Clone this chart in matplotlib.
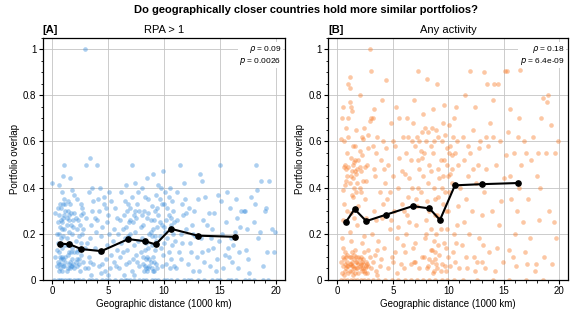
import matplotlib
matplotlib.use("Agg")
import matplotlib.pyplot as plt
from matplotlib.ticker import MultipleLocator

plt.rcParams["font.family"] = ["Liberation Sans", "DejaVu Sans"]
plt.rcParams["mathtext.fontset"] = "dejavusans"

# binned means (black line), same bins for both panels
bin_x = [0.75, 1.55, 2.6, 4.4, 6.8, 8.3, 9.25, 10.6, 13.0, 16.3]
bin_y_a = [0.157, 0.155, 0.134, 0.125, 0.177, 0.168, 0.154, 0.222, 0.192, 0.187]
bin_y_b = [0.25, 0.307, 0.255, 0.283, 0.32, 0.31, 0.26, 0.41, 0.415, 0.42]

# country pairs, panel A (RPA > 1): (distance, overlap)
zero_x_a = [0.2, 0.5, 0.9, 1.2, 1.6, 2.0, 2.4, 2.8, 3.3, 3.9, 4.5, 5.1, 5.6, 6.2, 6.7, 7.3, 7.8, 8.4,
            8.9, 9.5, 10.0, 10.6, 11.2, 11.8, 12.4, 13.0, 13.6, 14.3, 15.0, 15.7, 16.4, 17.2, 18.0, 18.8, 19.3,
            0.7, 1.4, 2.2, 3.6, 4.8, 6.5, 7.0, 8.1, 9.2, 10.3, 12.1, 14.7, 16.0, 17.6]
pts_a = [
    (0.4,0.06),(0.5,0.08),(0.6,0.12),(0.7,0.05),(0.8,0.18),(0.9,0.22),(0.5,0.25),(0.6,0.28),(0.7,0.33),(0.8,0.07),
    (1.0,0.09),(1.1,0.06),(1.2,0.15),(1.3,0.27),(1.4,0.30),(1.0,0.33),(0.9,0.38),(1.2,0.10),(1.5,0.07),(1.6,0.05),
    (1.7,0.12),(1.8,0.20),(1.9,0.26),(2.0,0.29),(1.6,0.33),(1.7,0.24),(1.5,0.21),(1.3,0.18),(1.1,0.22),(0.9,0.14),
    (0.7,0.10),(0.5,0.16),(0.4,0.20),(0.3,0.29),(0.6,0.04),(2.1,0.08),(2.2,0.06),(2.3,0.13),(2.4,0.19),(2.5,0.24),
    (2.6,0.28),(2.7,0.31),(2.8,0.08),(2.9,0.05),(2.2,0.35),(2.0,0.37),(1.8,0.39),(2.4,0.09),(2.6,0.16),(2.8,0.22),
    (3.0,0.27),(1.3,0.04),(1.4,0.11),(1.9,0.07),(2.1,0.17),(0.8,0.26),(1.0,0.27),(1.2,0.30),(1.5,0.28),(1.6,0.16),
    (1.8,0.09),(2.0,0.12),(2.3,0.26),(2.7,0.20),(2.9,0.14),(0.5,0.31),(0.3,0.10),(1.1,0.35),(1.4,0.34),(0.9,0.04),
    (2.5,0.04),(1.7,0.06),(2.2,0.22),(2.6,0.33),(1.0,0.45),(1.6,0.44),(1.1,0.50),(0.0,0.42),(0.6,0.41),
    (0.6,0.07),(0.8,0.09),(1.0,0.06),(1.2,0.08),(1.4,0.05),(1.6,0.08),(1.8,0.06),(2.0,0.05),(2.2,0.09),(2.4,0.07),
    (0.7,0.23),(0.9,0.25),(1.1,0.28),(1.3,0.24),(1.5,0.26),(1.7,0.29),(1.9,0.23),(2.1,0.27),(0.8,0.31),(1.2,0.33),
    (0.6,0.20),(1.0,0.19),(1.4,0.15),(1.8,0.14),(2.2,0.12),(0.4,0.13),(2.6,0.11),(2.8,0.29),(0.9,0.10),(1.5,0.12),
    (3.2,0.05),(3.3,0.10),(3.4,0.18),(3.5,0.24),(3.6,0.30),(3.7,0.07),(3.8,0.14),(3.9,0.21),(4.0,0.26),(4.1,0.35),
    (4.2,0.06),(4.3,0.12),(4.4,0.19),(4.5,0.23),(4.6,0.33),(4.7,0.04),(4.8,0.09),(4.9,0.15),(5.0,0.28),(5.1,0.38),
    (5.2,0.05),(5.3,0.11),(5.4,0.17),(5.5,0.22),(5.6,0.31),(5.7,0.06),(5.8,0.13),(5.9,0.20),(3.3,0.38),(3.0,0.50),
    (3.4,0.53),(4.0,0.50),(3.6,0.40),(4.3,0.40),(4.6,0.36),(5.3,0.34),(3.5,0.02),(4.4,0.03),(5.5,0.08),(3.1,0.16),
    (4.9,0.25),(5.8,0.27),(3.8,0.27),(4.2,0.30),(5.0,0.02),(3.4,0.08),(4.5,0.07),(5.1,0.20),(3.7,0.34),(4.8,0.31),
    (6.0,0.05),(6.1,0.10),(6.2,0.16),(6.3,0.22),(6.4,0.28),(6.5,0.34),(6.6,0.07),(6.7,0.13),(6.8,0.19),(6.9,0.25),
    (7.0,0.31),(7.1,0.04),(7.2,0.09),(7.3,0.15),(7.4,0.21),(7.5,0.27),(7.6,0.33),(7.7,0.38),(7.8,0.06),(7.9,0.12),
    (8.0,0.18),(8.1,0.24),(8.2,0.30),(8.3,0.36),(8.4,0.05),(8.5,0.10),(8.6,0.14),(8.7,0.20),(8.8,0.26),(8.9,0.32),
    (9.0,0.04),(9.1,0.08),(9.2,0.13),(9.3,0.17),(9.4,0.23),(9.5,0.28),(9.6,0.35),(9.7,0.40),(9.8,0.06),(9.9,0.11),
    (10.0,0.16),(10.1,0.21),(10.2,0.26),(10.3,0.31),(10.4,0.36),(10.5,0.05),(10.6,0.09),(10.7,0.15),(10.8,0.20),(10.9,0.25),
    (6.2,0.38),(6.4,0.02),(6.7,0.30),(6.9,0.08),(7.1,0.36),(7.3,0.28),(7.5,0.11),(7.7,0.17),(7.9,0.23),(8.1,0.07),
    (8.3,0.13),(8.5,0.27),(8.7,0.06),(8.9,0.15),(9.0,0.22),(9.2,0.30),(9.4,0.05),(9.6,0.19),(9.8,0.24),(10.0,0.33),
    (10.2,0.07),(10.4,0.12),(10.6,0.24),(10.8,0.30),(8.2,0.04),(8.4,0.09),(8.6,0.05),(8.8,0.08),(9.0,0.10),(7.0,0.20),
    (7.2,0.25),(6.8,0.33),(6.6,0.41),(7.1,0.50),(7.4,0.42),(8.0,0.40),(8.5,0.44),(9.0,0.46),(9.9,0.47),(9.5,0.41),
    (10.1,0.38),(10.5,0.40),(6.3,0.12),(6.5,0.18),(7.8,0.30),(8.6,0.35),(9.3,0.37),(10.7,0.34),(10.9,0.06),(6.1,0.26),
    (9.7,0.14),(10.3,0.18),(8.0,0.28),(7.6,0.08),(9.1,0.26),(10.5,0.22),(8.9,0.19),(7.3,0.02),
    (8.3,0.06),(8.5,0.04),(8.7,0.09),(8.9,0.05),(9.1,0.04),(9.3,0.07),(8.1,0.10),(8.4,0.16),(8.8,0.21),(9.2,0.19),
    (9.6,0.25),(10.0,0.23),(10.4,0.28),(9.4,0.31),(9.8,0.33),(8.6,0.29),(7.4,0.30),(7.0,0.26),(6.6,0.23),(10.6,0.27),
    (11.1,0.05),(11.3,0.12),(11.5,0.20),(11.7,0.28),(11.9,0.35),(12.1,0.07),(12.3,0.16),(12.5,0.24),(12.7,0.30),(12.9,0.10),
    (13.1,0.04),(13.3,0.18),(13.5,0.26),(13.7,0.36),(13.9,0.13),(14.1,0.06),(14.3,0.22),(14.5,0.29),(14.7,0.09),(14.9,0.17),
    (15.1,0.34),(15.3,0.05),(15.5,0.25),(15.7,0.14),(15.9,0.31),(16.1,0.08),(16.3,0.21),(16.5,0.27),(16.7,0.12),(16.9,0.30),
    (11.2,0.38),(11.4,0.50),(11.6,0.33),(11.8,0.42),(12.2,0.31),(12.6,0.04),(13.0,0.35),(13.2,0.46),(13.4,0.43),(13.8,0.24),
    (14.0,0.29),(14.4,0.14),(14.8,0.37),(15.0,0.50),(15.2,0.20),(15.6,0.38),(16.0,0.18),(16.4,0.35),(16.8,0.23),(11.0,0.17),
    (12.0,0.22),(12.8,0.19),(13.6,0.08),(14.6,0.04),(15.8,0.10),(16.6,0.05),(11.5,0.09),(12.4,0.12),
    (11.2,0.26),(11.6,0.16),(12.0,0.29),(12.6,0.20),(13.4,0.12),(14.2,0.18),(15.4,0.11),(16.2,0.15),
    (17.1,0.30),(17.3,0.13),(17.4,0.22),(17.6,0.03),(17.8,0.36),(18.0,0.25),(18.2,0.50),(18.3,0.39),(18.4,0.18),(18.6,0.21),
    (18.7,0.43),(18.8,0.06),(19.0,0.30),(19.2,0.12),(19.4,0.43),(19.6,0.22),(19.8,0.12),(19.9,0.21),(17.2,0.30),(18.1,0.33),
    (19.1,0.31),(17.5,0.09),(2.9,1.0),
]

# panel B (any activity)
zero_x_b = [0.3, 0.6, 0.9, 1.2, 1.5, 1.8, 2.1, 2.4, 2.8, 3.2, 3.7, 4.3, 4.9, 5.5, 6.1, 6.6, 7.2, 7.7,
            8.3, 8.8, 9.4, 9.9, 10.5, 11.3, 12.6, 14.0, 15.5, 17.0, 18.5]
pts_b = [
    (0.4,0.03),(0.5,0.06),(0.6,0.09),(0.7,0.12),(0.8,0.05),(0.9,0.08),(1.0,0.03),(1.1,0.07),(1.2,0.10),(1.3,0.04),
    (1.4,0.06),(1.5,0.09),(1.6,0.13),(1.7,0.05),(1.8,0.08),(1.9,0.03),(2.0,0.06),(2.1,0.10),(2.2,0.04),(2.3,0.07),
    (2.4,0.12),(2.5,0.05),(2.6,0.08),(2.7,0.03),(2.8,0.06),(2.9,0.10),(3.0,0.05),(0.5,0.14),(0.7,0.07),(0.9,0.11),
    (1.1,0.04),(1.3,0.08),(1.5,0.05),(1.7,0.10),(1.9,0.07),(2.1,0.05),(2.3,0.09),(2.5,0.03),(2.7,0.07),(0.6,0.02),
    (1.0,0.06),(1.4,0.02),(1.8,0.05),(2.2,0.08),(2.6,0.06),(0.8,0.10),(1.2,0.07),(1.6,0.03),(2.0,0.09),(2.4,0.04),
    (0.3,0.08),(1.3,0.12),(2.8,0.13),(3.2,0.08),(3.5,0.04),(3.8,0.06),(3.4,0.11),(3.6,0.02),
    (0.5,0.10),(0.7,0.04),(0.9,0.06),(1.1,0.10),(1.3,0.06),(1.5,0.11),(1.7,0.08),(1.9,0.10),(2.1,0.07),(2.3,0.05),
    (0.4,0.18),(0.5,0.26),(0.6,0.33),(0.7,0.41),(0.8,0.48),(0.9,0.55),(1.0,0.62),(1.1,0.21),(1.2,0.29),(1.3,0.37),
    (1.4,0.44),(1.5,0.51),(1.6,0.58),(1.7,0.65),(1.8,0.24),(1.9,0.32),(2.0,0.40),(2.1,0.47),(2.2,0.54),(2.3,0.61),
    (2.4,0.19),(2.5,0.35),(2.6,0.43),(2.7,0.50),(2.8,0.57),(2.9,0.69),(0.5,0.39),(0.7,0.50),(0.9,0.45),(1.1,0.42),
    (1.3,0.47),(1.5,0.40),(1.7,0.46),(1.9,0.52),(2.1,0.38),(2.3,0.43),(2.5,0.49),(0.6,0.60),(0.8,0.66),(1.0,0.70),
    (1.2,0.75),(1.4,0.58),(1.6,0.52),(1.8,0.48),(2.0,0.56),(2.2,0.62),(2.4,0.66),(0.3,0.61),(0.4,0.70),(0.5,0.75),
    (1.1,0.77),(1.3,0.73),(1.0,0.85),(1.1,0.83),(1.1,0.88),(2.0,0.80),(0.9,0.30),(1.5,0.27),(2.6,0.27),(1.2,0.17),
    (2.2,0.16),(0.6,0.49),(2.8,0.63),(3.0,0.70),(2.9,1.0),(3.0,0.905),(3.2,0.70),(3.3,0.74),
    (0.8,0.43),(1.0,0.49),(1.2,0.45),(1.4,0.50),(1.6,0.47),(1.8,0.42),(2.0,0.49),(1.2,0.53),(1.4,0.36),(1.7,0.38),
    (3.1,0.20),(3.3,0.30),(3.4,0.45),(3.5,0.55),(3.6,0.62),(3.7,0.17),(3.8,0.38),(3.9,0.52),(4.0,0.27),(4.1,0.60),
    (4.2,0.14),(4.3,0.42),(4.4,0.865),(4.5,0.35),(4.6,0.50),(4.7,0.22),(4.8,0.68),(4.9,0.10),(5.0,0.45),(5.1,0.30),
    (5.2,0.58),(5.3,0.75),(5.4,0.18),(5.5,0.40),(5.6,0.53),(5.7,0.07),(5.8,0.33),(5.9,0.62),(3.2,0.58),(3.6,0.13),
    (4.0,0.78),(4.4,0.57),(4.8,0.26),(5.2,0.12),(5.6,0.70),(3.9,0.09),(4.6,0.05),(5.4,0.03),(3.5,0.26),(4.2,0.48),
    (5.0,0.60),(5.8,0.47),(3.3,0.48),(4.7,0.38),(5.5,0.23),(4.1,0.33),(5.9,0.15),(5.0,0.08),
    (6.0,0.05),(6.1,0.12),(6.2,0.20),(6.3,0.28),(6.4,0.36),(6.5,0.44),(6.6,0.52),(6.7,0.60),(6.8,0.68),(6.9,0.08),
    (7.0,0.16),(7.1,0.24),(7.2,0.32),(7.3,0.40),(7.4,0.48),(7.5,0.56),(7.6,0.64),(7.7,0.72),(7.8,0.10),(7.9,0.18),
    (8.0,0.26),(8.1,0.34),(8.2,0.42),(8.3,0.50),(8.4,0.58),(8.5,0.66),(8.6,0.74),(8.7,0.04),(8.8,0.12),(8.9,0.20),
    (9.0,0.28),(9.1,0.36),(9.2,0.44),(9.3,0.52),(9.4,0.60),(9.5,0.68),(9.6,0.76),(9.7,0.06),(9.8,0.14),(9.9,0.22),
    (10.0,0.30),(10.1,0.38),(10.2,0.46),(10.3,0.54),(10.4,0.62),(10.5,0.70),(10.6,0.08),(10.7,0.16),(10.8,0.24),(10.9,0.32),
    (6.2,0.55),(6.4,0.62),(6.6,0.07),(6.8,0.14),(7.0,0.58),(7.2,0.62),(7.3,0.905),(7.4,0.05),(7.6,0.10),(7.8,0.55),
    (8.0,0.60),(8.1,0.87),(8.2,0.06),(8.4,0.13),(8.5,0.08),(8.6,0.03),(8.8,0.09),(9.0,0.85),(9.0,0.05),(9.2,0.11),
    (9.4,0.07),(9.6,0.16),(9.8,0.04),(10.0,0.10),(10.2,0.06),(10.4,0.12),(10.6,0.55),(10.8,0.60),(7.5,0.38),(8.3,0.30),
    (8.7,0.40),(9.1,0.48),(9.5,0.33),(9.9,0.57),(10.3,0.42),(6.3,0.70),(6.9,0.78),(7.7,0.45),(8.9,0.65),(9.7,0.63),
    (10.1,0.67),(10.7,0.75),(6.5,0.25),(7.1,0.35),(8.0,0.20),(8.8,0.28),(9.3,0.22),(10.5,0.20),(6.1,0.46),(7.9,0.66),
    (8.6,0.55),(9.4,0.40),(10.9,0.50),(6.7,0.40),(9.6,0.52),(10.2,0.58),(8.4,0.47),(7.3,0.52),(7.0,0.08),(6.0,0.30),
    (9.8,0.30),(10.0,0.45),
    (8.1,0.05),(8.3,0.09),(8.5,0.13),(8.7,0.17),(8.9,0.07),(9.1,0.15),(9.3,0.04),(8.4,0.22),(8.8,0.35),(9.2,0.27),
    (9.5,0.45),(9.7,0.38),(9.9,0.50),(10.1,0.55),(10.3,0.48),(7.4,0.60),(7.6,0.53),(8.2,0.64),(8.7,0.60),(9.1,0.62),
    (11.0,0.05),(11.2,0.15),(11.4,0.25),(11.6,0.35),(11.8,0.45),(12.0,0.55),(12.2,0.65),(12.4,0.75),(12.6,0.08),(12.8,0.18),
    (13.0,0.28),(13.2,0.38),(13.4,0.48),(13.6,0.58),(13.8,0.68),(14.0,0.78),(14.2,0.04),(14.4,0.14),(14.6,0.24),(14.8,0.34),
    (15.0,0.44),(15.2,0.54),(15.4,0.64),(15.6,0.74),(15.8,0.10),(16.0,0.20),(16.2,0.30),(16.4,0.40),(16.6,0.50),(16.8,0.60),
    (11.3,0.62),(11.5,0.80),(11.7,0.05),(12.0,0.905),(12.1,0.30),(12.5,0.42),(12.9,0.60),(13.2,0.90),(13.3,0.05),(13.5,0.85),
    (13.7,0.12),(14.1,0.85),(14.3,0.50),(14.5,0.85),(14.7,0.60),(15.1,0.905),(15.3,0.905),(15.5,0.13),(15.7,0.35),(15.9,0.55),
    (16.1,0.06),(16.3,0.62),(16.5,0.91),(16.7,0.25),(16.9,0.12),(11.1,0.40),(11.9,0.20),(12.7,0.50),(13.9,0.30),(14.9,0.08),
    (15.6,0.45),(16.4,0.70),(12.3,0.10),(13.1,0.15),(14.0,0.62),
    (11.4,0.52),(11.8,0.58),(12.2,0.48),(12.8,0.57),(13.4,0.62),(11.6,0.10),(12.4,0.04),(13.0,0.08),
    (17.0,0.55),(17.2,0.35),(17.4,0.18),(17.6,0.62),(17.8,0.04),(18.0,0.45),(18.2,0.26),(18.4,0.70),(18.5,0.79),(18.6,0.10),
    (18.8,0.55),(19.0,0.80),(19.1,0.30),(19.3,0.67),(19.5,0.25),(19.7,0.18),(19.9,0.60),(17.1,0.07),(17.5,0.52),(18.1,0.55),
    (18.9,0.77),(19.4,0.07),(17.9,0.07),(18.3,0.40),(19.6,0.55),
]

panels = [
    ("[A]", "RPA > 1", zero_x_a, pts_a, bin_y_a, "#3a8ddc", "0.09", "0.0026"),
    ("[B]", "Any activity", zero_x_b, pts_b, bin_y_b, "#f97a26", "0.18", "6.4e-09"),
]

fig = plt.figure(figsize=(5.7, 3.16), dpi=100)
axes = [fig.add_axes([0.0746, 0.114, 0.4254, 0.767]),
        fig.add_axes([0.5754, 0.114, 0.4211, 0.767])]

for ax, (tag, title, zx, pts, by, col, rho, pval) in zip(axes, panels):
    xs = [p[0] for p in pts] + zx
    ys = [p[1] for p in pts] + [0.0] * len(zx)
    ax.scatter(xs, ys, s=11, color=col, alpha=0.42, linewidths=0, zorder=2)
    ax.plot(bin_x, by, color="k", lw=1.5, marker="o", ms=3.8, zorder=4)
    ax.set_xlim(-0.85, 20.8)
    ax.set_ylim(0, 1.05)
    ax.xaxis.set_major_locator(MultipleLocator(5))
    ax.xaxis.set_minor_locator(MultipleLocator(1))
    ax.yaxis.set_major_locator(MultipleLocator(0.2))
    ax.yaxis.set_minor_locator(MultipleLocator(0.05))
    ax.set_yticks([0, 0.2, 0.4, 0.6, 0.8, 1.0], ["0", "0.2", "0.4", "0.6", "0.8", "1"])
    ax.tick_params(labelsize=7, length=3, width=0.8, pad=1.5)
    ax.tick_params(which="minor", length=1.8, width=0.6)
    ax.grid(True, color="#c4c4c4", lw=0.6)
    ax.set_axisbelow(True)
    for s in ax.spines.values():
        s.set_linewidth(0.9)
    ax.set_xlabel("Geographic distance (1000 km)", fontsize=7, labelpad=2)
    ax.set_ylabel("Portfolio overlap", fontsize=7, labelpad=2)
    ax.set_title(title, fontsize=8, pad=3)
    ax.set_title(tag, fontsize=8, fontweight="bold", loc="left", pad=3)
    ax.text(0.985, 0.975, rf"$\rho$ = {rho}" + "\n" + rf"$p$ = {pval}", transform=ax.transAxes,
            ha="right", va="top", fontsize=6, linespacing=1.15, zorder=5,
            bbox=dict(facecolor="white", edgecolor="none", pad=1.0))

fig.suptitle("Do geographically closer countries hold more similar portfolios?",
             fontsize=8, fontweight="bold", x=0.536, y=0.985)
fig.savefig("out.png", dpi=100)
